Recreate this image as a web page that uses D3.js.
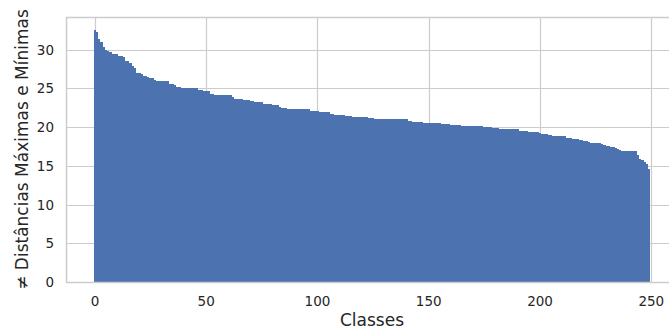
<!DOCTYPE html>
<html>
<head>
<meta charset="utf-8">
<script src="https://cdn.jsdelivr.net/npm/d3@7"></script>
<style>
    body { margin: 0; background: #fff; }
    text { font-family: "DejaVu Sans", sans-serif; fill: #262626; }
</style>
</head>
<body>
<svg id="chart" width="669" height="331"></svg>
<script>
// Sorted distance spread per class
const distances = [
    32.6, 32.3, 31.4, 31.0, 30.3, 30.0, 29.9, 29.7, 29.5, 29.5,
    29.5, 29.2, 29.2, 29.1, 28.6, 28.6, 28.3, 27.9, 27.6, 27.0,
    27.0, 26.9, 26.6, 26.6, 26.5, 26.4, 26.3, 26.1, 26.0, 26.0,
    25.9, 25.9, 25.9, 25.9, 25.6, 25.6, 25.5, 25.2, 25.2, 25.1,
    25.1, 25.1, 25.0, 25.0, 25.0, 25.0, 25.0, 24.8, 24.8, 24.7,
    24.7, 24.7, 24.3, 24.3, 24.2, 24.2, 24.2, 24.2, 24.1, 24.1,
    24.1, 24.1, 23.9, 23.7, 23.7, 23.7, 23.7, 23.5, 23.5, 23.5,
    23.4, 23.4, 23.3, 23.3, 23.2, 23.2, 23.0, 23.0, 23.0, 23.0,
    22.9, 22.9, 22.9, 22.6, 22.5, 22.5, 22.5, 22.4, 22.4, 22.4,
    22.4, 22.4, 22.4, 22.3, 22.3, 22.3, 22.3, 22.1, 22.1, 22.1,
    22.1, 22.0, 22.0, 22.0, 21.9, 21.9, 21.7, 21.7, 21.6, 21.6,
    21.6, 21.6, 21.6, 21.5, 21.5, 21.5, 21.3, 21.3, 21.3, 21.3,
    21.3, 21.3, 21.3, 21.2, 21.2, 21.2, 21.1, 21.1, 21.1, 21.1,
    21.1, 21.1, 21.1, 21.1, 21.0, 21.0, 21.0, 21.0, 21.0, 21.0,
    21.0, 20.8, 20.8, 20.7, 20.7, 20.7, 20.7, 20.7, 20.6, 20.6,
    20.6, 20.6, 20.5, 20.5, 20.5, 20.5, 20.4, 20.4, 20.4, 20.4,
    20.3, 20.3, 20.3, 20.3, 20.3, 20.2, 20.2, 20.2, 20.2, 20.2,
    20.2, 20.1, 20.1, 20.1, 20.1, 20.0, 20.0, 20.0, 20.0, 19.9,
    19.9, 19.9, 19.8, 19.8, 19.8, 19.8, 19.8, 19.7, 19.7, 19.7,
    19.7, 19.5, 19.5, 19.5, 19.5, 19.4, 19.4, 19.4, 19.4, 19.4,
    19.3, 19.1, 19.1, 19.1, 19.0, 19.0, 18.9, 18.9, 18.9, 18.8,
    18.8, 18.8, 18.6, 18.6, 18.6, 18.5, 18.5, 18.5, 18.4, 18.4,
    18.2, 18.2, 18.1, 18.0, 18.0, 18.0, 18.0, 17.9, 17.8, 17.7,
    17.6, 17.6, 17.5, 17.5, 17.3, 17.2, 17.1, 16.9, 16.9, 16.9,
    16.9, 16.9, 16.9, 16.9, 16.4, 15.9, 15.7, 15.5, 15.3, 14.6
];
const classes = distances.map((d, i) => i); // class index 0..249
const xTicks = [0, 50, 100, 150, 200, 250];
const yTicks = [0, 5, 10, 15, 20, 25, 30];

const svg = d3.select("#chart");

// Axes area (right edge runs past the image, like the reference crop)
const plotLeft = 66, plotTop = 17, plotBottom = 282, plotRight = 678;

// matplotlib-like margins: 5% on x around the bars, 5% above the max
const x = d3.scaleLinear()
    .domain([-13, 262])
    .range([plotLeft, plotRight]);
const y = d3.scaleLinear()
    .domain([0, d3.max(distances) * 1.05])
    .range([plotBottom, plotTop]);

const gridColor = "#cccccc";

// Grid lines first so the bars sit on top
svg.append("g")
    .selectAll("line")
    .data(yTicks)
    .enter().append("line")
    .attr("x1", plotLeft).attr("x2", plotRight)
    .attr("y1", d => Math.round(y(d)) + 0.5)
    .attr("y2", d => Math.round(y(d)) + 0.5)
    .attr("stroke", gridColor)
    .attr("stroke-width", 1.2);

svg.append("g")
    .selectAll("line")
    .data(xTicks)
    .enter().append("line")
    .attr("x1", d => Math.round(x(d)) + 0.5)
    .attr("x2", d => Math.round(x(d)) + 0.5)
    .attr("y1", plotTop).attr("y2", plotBottom)
    .attr("stroke", gridColor)
    .attr("stroke-width", 1.2);

// Bars, width 1 class each, drawn edge to edge (crisp so no seams show)
svg.append("g")
    .attr("shape-rendering", "crispEdges")
    .selectAll("rect")
    .data(classes)
    .enter().append("rect")
    .attr("x", i => x(i - 0.5))
    .attr("width", i => x(i + 0.5) - x(i - 0.5))
    .attr("y", i => y(distances[i]))
    .attr("height", i => y(0) - y(distances[i]))
    .attr("fill", "#4c72b0");

// Frame (spines)
svg.append("rect")
    .attr("x", plotLeft + 0.5)
    .attr("y", plotTop + 0.5)
    .attr("width", plotRight - plotLeft)
    .attr("height", plotBottom - plotTop)
    .attr("fill", "none")
    .attr("stroke", gridColor)
    .attr("stroke-width", 1.5);

// Tick labels
svg.append("g")
    .selectAll("text")
    .data(xTicks)
    .enter().append("text")
    .attr("x", d => x(d))
    .attr("y", 306)
    .attr("text-anchor", "middle")
    .style("font-size", "13.5px")
    .text(d => d);

svg.append("g")
    .selectAll("text")
    .data(yTicks)
    .enter().append("text")
    .attr("x", 54)
    .attr("y", d => y(d) + 5)
    .attr("text-anchor", "end")
    .style("font-size", "13.5px")
    .text(d => d);

// Axis titles
svg.append("text")
    .attr("x", 372)
    .attr("y", 326)
    .attr("text-anchor", "middle")
    .style("font-size", "17px")
    .text("Classes");

svg.append("text")
    .attr("transform", `translate(28, ${(plotTop + plotBottom) / 2}) rotate(-90)`)
    .attr("text-anchor", "middle")
    .style("font-size", "17px")
    .text("≠ Distâncias Máximas e Mínimas");
</script>
</body>
</html>
